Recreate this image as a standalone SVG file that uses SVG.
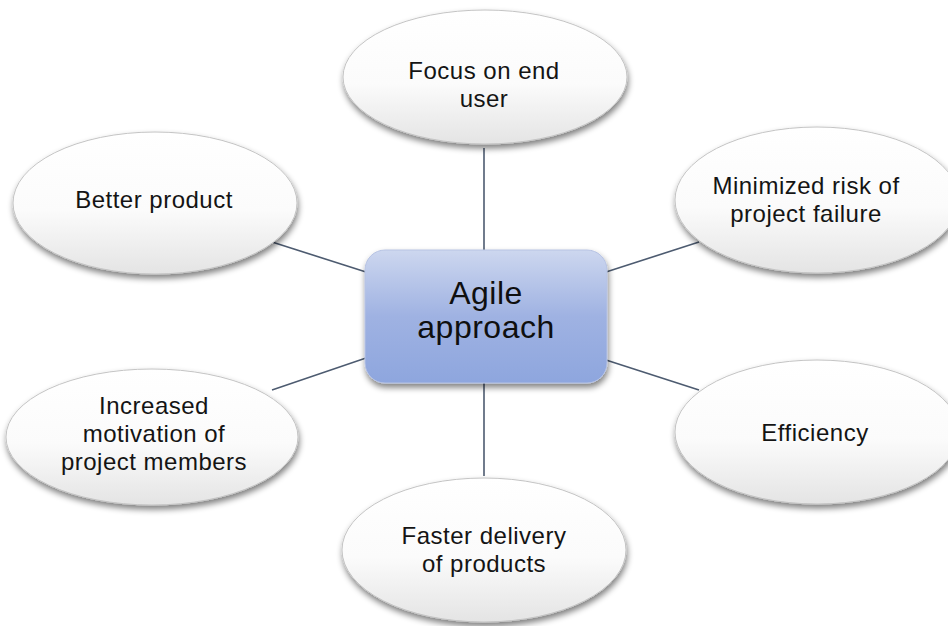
<svg xmlns="http://www.w3.org/2000/svg" width="948" height="626" viewBox="0 0 948 626">
  <defs>
    <linearGradient id="bubbleFill" x1="0" y1="0" x2="0" y2="1">
      <stop offset="0" stop-color="#ffffff"/>
      <stop offset="0.55" stop-color="#fbfbfb"/>
      <stop offset="1" stop-color="#e4e4e4"/>
    </linearGradient>
    <linearGradient id="hubFill" x1="0" y1="0" x2="0" y2="1">
      <stop offset="0" stop-color="#cdd7ef"/>
      <stop offset="0.5" stop-color="#9fb2e2"/>
      <stop offset="1" stop-color="#8ea6de"/>
    </linearGradient>
    <filter id="softShadow" x="-20%" y="-20%" width="140%" height="150%">
      <feGaussianBlur in="SourceAlpha" stdDeviation="3"/>
      <feOffset dx="1" dy="4" result="b"/>
      <feComponentTransfer><feFuncA type="linear" slope="0.5"/></feComponentTransfer>
      <feMerge><feMergeNode/><feMergeNode in="SourceGraphic"/></feMerge>
    </filter>
  </defs>
  <style>
    .bubble { fill: url(#bubbleFill); stroke: #c4c4c4; stroke-width: 1; filter: url(#softShadow); }
    .hub { fill: url(#hubFill); stroke: #b7c3e3; stroke-width: 1; filter: url(#softShadow); }
    .label { font-family: "Liberation Sans", Arial, sans-serif; font-size: 24px; letter-spacing: 0.5px; fill: #141414; text-anchor: middle; }
    .hubLabel { font-family: "Liberation Sans", Arial, sans-serif; font-size: 32px; letter-spacing: 0.5px; fill: #0f0f0f; text-anchor: middle; }
    .link { stroke: #4d5b70; stroke-width: 1.6; fill: none; }
  </style>
  <rect width="948" height="626" fill="#ffffff"/>

  <g id="connectors">
    <line class="link" x1="484" y1="148" x2="484" y2="251"/>
    <line class="link" x1="484" y1="383" x2="484" y2="476"/>
    <line class="link" x1="272" y1="242" x2="366" y2="272"/>
    <line class="link" x1="606" y1="272" x2="699" y2="242"/>
    <line class="link" x1="272" y1="390" x2="366" y2="358"/>
    <line class="link" x1="606" y1="360" x2="699" y2="390"/>
  </g>

  <g id="focus-end-user">
    <ellipse class="bubble" cx="485" cy="77" rx="142" ry="67"/>
    <text class="label" x="484" y="79">Focus on end</text>
    <text class="label" x="484" y="107">user</text>
  </g>

  <g id="better-product">
    <ellipse class="bubble" cx="155" cy="203" rx="142" ry="71"/>
    <text class="label" x="154" y="208">Better product</text>
  </g>

  <g id="minimized-risk">
    <ellipse class="bubble" cx="817" cy="200" rx="142" ry="73"/>
    <text class="label" x="806" y="194">Minimized risk of</text>
    <text class="label" x="806" y="222">project failure</text>
  </g>

  <g id="increased-motivation">
    <ellipse class="bubble" cx="152" cy="437" rx="146" ry="68"/>
    <text class="label" x="154" y="414">Increased</text>
    <text class="label" x="154" y="442">motivation of</text>
    <text class="label" x="154" y="470">project members</text>
  </g>

  <g id="faster-delivery">
    <ellipse class="bubble" cx="484" cy="550" rx="142" ry="72"/>
    <text class="label" x="484" y="544">Faster delivery</text>
    <text class="label" x="484" y="572">of products</text>
  </g>

  <g id="efficiency">
    <ellipse class="bubble" cx="817" cy="432" rx="142" ry="72"/>
    <text class="label" x="815" y="441">Efficiency</text>
  </g>

  <g id="agile-approach">
    <rect class="hub" x="365" y="250" width="242" height="133" rx="20" ry="20"/>
    <text class="hubLabel" x="486" y="304">Agile</text>
    <text class="hubLabel" x="486" y="338">approach</text>
  </g>
</svg>
